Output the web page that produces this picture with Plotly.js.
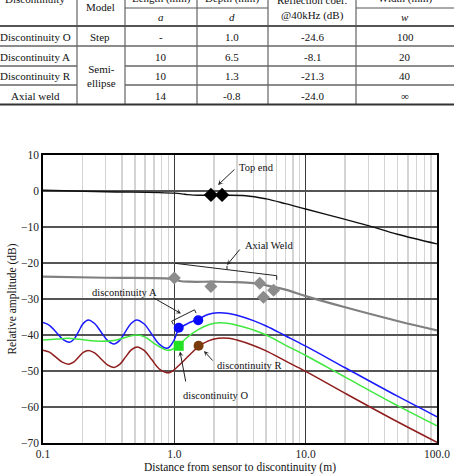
<!DOCTYPE html>
<html>
<head>
<meta charset="utf-8">
<script src="https://cdn.plot.ly/plotly-3.0.1.min.js"></script>
<style>
html,body{margin:0;padding:0;background:#fff;}
#chart{width:454px;height:474px;}
</style>
</head>
<body>
<div id="chart"></div>
<script>
// ---------- Table data ----------
var discNames = ['Discontinuity O', 'Discontinuity A', 'Discontinuity R', 'Axial weld'];
var lengths = ['-', '10', '10', '14'];
var depths = ['1.0', '6.5', '1.3', '-0.8'];
var reflCoefs = ['-24.6', '-8.1', '-21.3', '-24.0'];
var widths = ['100', '20', '40', '\u221e'];
var headerTop = ['Discontinuity', 'Length (mm)', 'Depth (mm)', 'Reflection coef.', 'Width (mm)'];
var headerSub = ['a', 'd', '@40kHz (dB)', 'w'];
var modelLabels = ['Model', 'Step', 'Semi-<br>ellipse'];

// ---------- Chart data ----------
var topEndX = [0.1, 0.3, 1.0, 1.2, 1.4, 2.0, 3.5, 5, 7, 10, 20, 30, 50, 100];
var topEndY = [0.2, -0.2, -0.6, -0.9, -1.15, -1.2, -1.3, -2.2, -3.5, -5.0, -7.9, -9.6, -12.0, -14.7];
var topEndPtsX = [1.9, 2.31];
var topEndPtsY = [-1.1, -1.1];

var weldX = [0.1, 0.3, 1.0, 1.1, 1.3, 2, 3, 4, 5, 7, 10, 20, 50, 100];
var weldY = [-23.8, -24.1, -24.5, -25.0, -25.2, -25.2, -25.3, -25.6, -26.2, -27.4, -29.2, -32.3, -36.1, -38.7];
var weldPtsX = [1.0, 1.9, 4.47, 4.77, 5.7];
var weldPtsY = [-24.2, -26.5, -25.6, -29.5, -27.6];

var blueX = [0.1, 0.112, 0.126, 0.1416, 0.159, 0.1726, 0.1873, 0.2033, 0.221, 0.2472, 0.2767, 0.3097, 0.347, 0.3833, 0.4236, 0.4683, 0.517, 0.59, 0.673, 0.767, 0.875, 0.92, 1.0, 1.08, 1.25, 1.52, 1.8, 2.16, 2.6, 3, 4, 5, 7, 10, 20, 50, 100];
var blueY = [-36.5, -37.3, -39.25, -41.2, -42.0, -41.1, -38.9, -36.7, -35.8, -36.8, -39.15, -41.5, -42.5, -41.5, -39.15, -36.8, -35.8, -36.95, -39.75, -42.55, -43.7, -43.3, -41.3, -38.4, -36.9, -35.6, -34.3, -33.8, -34.0, -34.5, -36.0, -37.5, -40.2, -43.1, -49.1, -57.0, -62.7];
var blueDotsX = [1.08, 1.52];
var blueDotsY = [-38.0, -35.9];

var greenX = [0.1, 0.13, 0.155, 0.19, 0.25, 0.347, 0.43, 0.52, 0.6, 0.7, 0.875, 0.95, 1.08, 1.25, 1.52, 1.87, 2.2, 2.6, 3, 4, 5, 7, 10, 20, 50, 100];
var greenY = [-41.4, -41.1, -40.9, -41.2, -41.7, -41.5, -40.6, -40.0, -40.6, -42.3, -44.2, -44.1, -42.9, -40.7, -38.5, -37.0, -36.6, -36.8, -37.3, -38.6, -40.0, -42.8, -45.7, -51.7, -59.6, -65.2];
var greenSqX = [1.08];
var greenSqY = [-43.0];

var redX = [0.1, 0.112, 0.1253, 0.1403, 0.157, 0.171, 0.1862, 0.2028, 0.221, 0.2472, 0.2767, 0.3097, 0.347, 0.3837, 0.4246, 0.4699, 0.52, 0.5921, 0.6745, 0.7684, 0.875, 0.95, 1.0, 1.17, 1.35, 1.53, 1.8, 2.16, 2.6, 3, 4, 5, 7, 10, 20, 50, 100];
var redY = [-44.2, -44.77, -46.15, -47.53, -48.1, -47.55, -46.2, -44.85, -44.3, -44.99, -46.65, -48.3, -49.0, -48.17, -46.15, -44.13, -43.3, -44.35, -46.9, -49.45, -50.5, -50.2, -49.6, -47.3, -45.0, -43.2, -41.7, -40.9, -40.9, -41.4, -42.9, -44.4, -47.2, -50.1, -56.2, -64.1, -69.8];
var brownDotX = [1.53];
var brownDotY = [-43.0];

var xTickVals = [0.1, 1, 10, 100];
var xTickText = ['0.1', '1.0', '10.0', '100.0'];
var minorVals = [0.2,0.3,0.4,0.5,0.6,0.7,0.8,0.9,2,3,4,5,6,7,8,9,20,30,40,50,60,70,80,90];

// ---------- Helpers: pixel -> paper ----------
var PL = 43, PR = 437, PT = 155, PB = 443;
function px(x){ return (x - PL) / (PR - PL); }
function py(y){ return (PB - y) / (PB - PT); }

var SERIF = 'Liberation Serif';

var shapes = [];
var annotations = [];
function line(x0, y0, x1, y1, color, w){
  shapes.push({type:'line', xref:'paper', yref:'paper', x0:px(x0), y0:py(y0), x1:px(x1), y1:py(y1),
    line:{color:color || '#333', width:w || 1}});
}
function text(t, x, y, size, anchor){
  annotations.push({text:t, xref:'paper', yref:'paper', x:px(x), y:py(y), showarrow:false,
    xanchor:anchor || 'center', yanchor:'middle', font:{family:SERIF, size:size || 11, color:'#111'}});
}
function arrow(hx, hy, tx, ty){
  annotations.push({text:'', xref:'paper', yref:'paper', x:px(hx), y:py(hy), ax:tx - hx, ay:ty - hy,
    showarrow:true, arrowhead:3, arrowsize:0.9, arrowwidth:1, arrowcolor:'#222'});
}

// ---------- Table drawing ----------
var colX = [77, 125, 197, 268, 356];
colX.forEach(function(c){ line(c, -2, c, 104, '#444', 1); });
line(125, 8, 268, 8, '#555', 1);
line(356, 8, 454, 8, '#555', 1);
line(0, 26, 454, 26, '#555', 2);
line(0, 46, 454, 46, '#666', 1.5);
line(0, 66, 77, 66, '#666', 1.5); line(125, 66, 454, 66, '#666', 1.5);
line(0, 85, 77, 85, '#666', 1.5); line(125, 85, 454, 85, '#666', 1.5);
line(0, 104.5, 454, 104.5, '#333', 2.2);

var colCenters = [35, 161, 232, 312, 405];
var tsize = 11;
text(headerTop[0], colCenters[0], -1, tsize);
text(headerTop[1], colCenters[1], -1, tsize);
text(headerTop[2], colCenters[2], -1, tsize);
text(headerTop[3], colCenters[3], 0, tsize);
text(headerTop[4], colCenters[4], -1, tsize);
text('<i>' + headerSub[0] + '</i>', colCenters[1], 17, tsize);
text('<i>' + headerSub[1] + '</i>', colCenters[2], 17, tsize);
text(headerSub[2], colCenters[3], 15, tsize);
text('<i>' + headerSub[3] + '</i>', colCenters[4], 17, tsize);
text(modelLabels[0], 100, 7, tsize);
text(modelLabels[1], 100, 37, tsize);
text(modelLabels[2], 101, 76, tsize);
var rowY = [37, 57, 76, 96];
for (var i = 0; i < 4; i++){
  text(discNames[i], colCenters[0], rowY[i], tsize);
  text(lengths[i], colCenters[1], rowY[i], tsize);
  text(depths[i], colCenters[2], rowY[i], tsize);
  text(reflCoefs[i], colCenters[3], rowY[i], tsize);
  text(widths[i], colCenters[4], rowY[i], tsize);
}

// ---------- Chart annotations ----------
text('Top end', 237, 167, 10.5, 'left');
arrow(218, 185, 236, 168);
text('Axial Weld', 243, 245, 10.5, 'left');
arrow(227, 265, 241, 248);
// axial weld brace
line(175, 263.3, 276.7, 275.7, '#222', 1);
line(276.7, 275.7, 276.7, 279.8, '#222', 1);
line(227, 265.8, 227, 269.6, '#222', 1);
text('discontinuity A', 124.5, 292.5, 10.5);
arrow(181, 313.5, 152, 297);
// discontinuity A brace
line(171.7, 321.2, 194.5, 309.8, '#222', 1);
line(171.7, 321.2, 173.3, 324.5, '#222', 1);
line(194.5, 309.8, 196.1, 313.1, '#222', 1);
text('discontinuity R', 215, 365, 10.5, 'left');
arrow(204, 351, 214, 362);
text('discontinuity O', 215, 395, 10.5);
arrow(180, 351.5, 186, 383);

// ---------- Traces ----------
var traces = [
  {x: topEndX, y: topEndY, mode:'lines', line:{color:'#111', width:1.4, shape:'spline'}, hoverinfo:'skip'},
  {x: weldX, y: weldY, mode:'lines', line:{color:'#808080', width:2.2, shape:'spline'}, hoverinfo:'skip'},
  {x: blueX, y: blueY, mode:'lines', line:{color:'#1a1aff', width:1.5, shape:'spline', smoothing:1}, hoverinfo:'skip'},
  {x: greenX, y: greenY, mode:'lines', line:{color:'#3fe83f', width:1.5, shape:'spline', smoothing:1}, hoverinfo:'skip'},
  {x: redX, y: redY, mode:'lines', line:{color:'#8f1d1d', width:1.5, shape:'spline', smoothing:1}, hoverinfo:'skip'},
  {x: topEndPtsX, y: topEndPtsY, mode:'markers', marker:{symbol:'diamond', size:11, color:'#000'}, hoverinfo:'skip'},
  {x: weldPtsX, y: weldPtsY, mode:'markers', marker:{symbol:'diamond', size:10, color:'#8c8c8c'}, hoverinfo:'skip'},
  {x: blueDotsX, y: blueDotsY, mode:'markers', marker:{symbol:'circle', size:10, color:'#0a0aff'}, hoverinfo:'skip'},
  {x: greenSqX, y: greenSqY, mode:'markers', marker:{symbol:'square', size:10, color:'#22e022'}, hoverinfo:'skip'},
  {x: brownDotX, y: brownDotY, mode:'markers', marker:{symbol:'circle', size:10, color:'#7a3b0c'}, hoverinfo:'skip'}
];

var tickFont = {family: SERIF, size: 11.5, color:'#222'};
var layout = {
  width: 454, height: 474,
  margin: {l: PL, r: 454 - PR, t: PT, b: 474 - PB},
  paper_bgcolor: '#fff', plot_bgcolor: '#fff',
  showlegend: false,
  font: {family: SERIF},
  xaxis: {
    type: 'log', range: [-1, 2],
    tickmode: 'array', tickvals: xTickVals, ticktext: xTickText,
    showgrid: true, gridcolor: '#3a3a3a', gridwidth: 1.3,
    minor: {tickmode: 'array', tickvals: minorVals, showgrid: true, gridcolor: '#d4d4d4', gridwidth: 1.5, ticks: ''},
    showline: true, linecolor: '#000', linewidth: 1.6, mirror: true,
    ticks: '', zeroline: false, tickfont: tickFont, automargin: false,
    title: {text: 'Distance from sensor to discontinuity (m)', font: {family: SERIF, size: 11.5, color:'#111'}, standoff: 4}
  },
  yaxis: {
    range: [-70, 10], tickmode: 'linear', tick0: -70, dtick: 10,
    showgrid: true, gridcolor: '#555', gridwidth: 1.3,
    showline: true, linecolor: '#000', linewidth: 1.6, mirror: true,
    ticks: '', zeroline: false, tickfont: tickFont, automargin: false,
    title: {text: 'Relative amplitude (dB)', font: {family: SERIF, size: 11.5, color:'#111'}, standoff: 2}
  },
  shapes: shapes,
  annotations: annotations
};

Plotly.newPlot('chart', traces, layout, {displayModeBar: false, staticPlot: true});
</script>
</body>
</html>
